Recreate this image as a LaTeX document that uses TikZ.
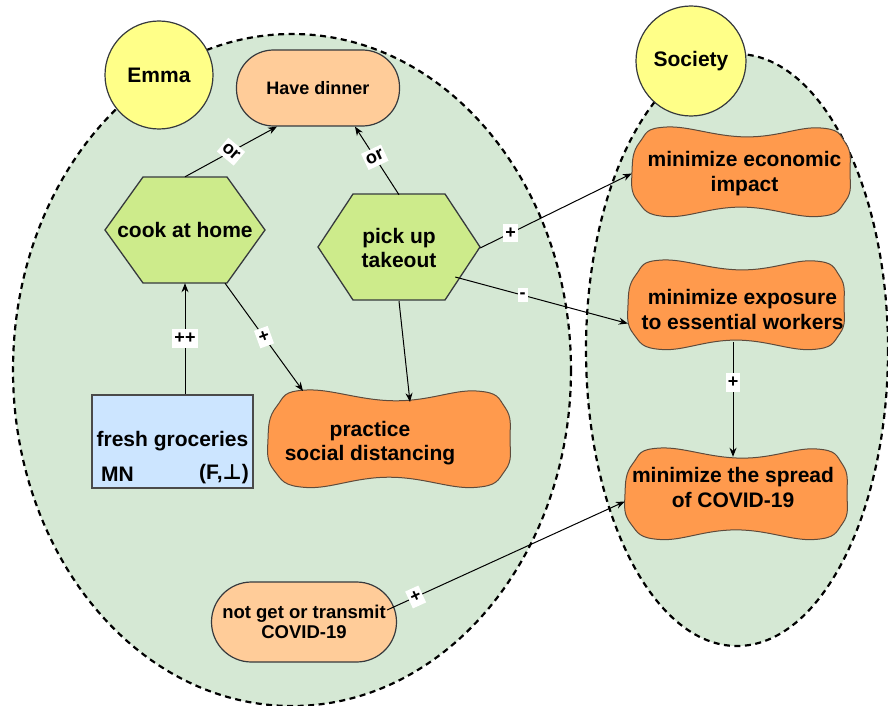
\documentclass[tikz,border=0pt]{standalone}
\usepackage{fontspec}
\setmainfont{Liberation Sans}
\newfontfamily\symbolfont{DejaVu Sans}
\usetikzlibrary{arrows.meta,calc}

\definecolor{groupfill}{HTML}{D5E8D4}
\definecolor{outline}{HTML}{36393D}
\definecolor{actorfill}{HTML}{FFFF88}
\definecolor{taskfill}{HTML}{CDEB8B}
\definecolor{goalfill}{HTML}{FFCC99}
\definecolor{softfill}{HTML}{FF9A4D}
\definecolor{softline}{HTML}{5E4B3C}
\definecolor{resfill}{HTML}{CCE5FF}
\definecolor{resline}{HTML}{4A4A4A}

\tikzset{
  mainfont/.style={font=\fontsize{21}{24.5}\selectfont\bfseries},
  group/.style={draw=black, fill=groupfill, line width=2.2pt, dash pattern=on 6pt off 4.5pt},
  actor/.style={circle, draw=outline, fill=actorfill, line width=1.2pt, mainfont, inner sep=0pt},
  goal/.style={rectangle, draw=outline, fill=goalfill, line width=1.2pt, align=center, inner sep=0pt},
  textonly/.style={align=center, mainfont, inner sep=0pt},
  taskshape/.style={draw=outline, fill=taskfill, line width=1.3pt, line join=miter},
  softshape/.style={draw=softline, fill=softfill, line width=1pt},
  resource/.style={rectangle, draw=resline, fill=resfill, line width=2.5pt, mainfont, inner sep=0pt},
  link/.style={-{Stealth[length=9pt,width=7pt]}, line width=1pt, black},
  tag/.style={fill=white, inner xsep=2pt, inner ysep=4pt, font=\fontsize{18}{18}\selectfont\bfseries},
}

% hexagon: centre x, centre y, half width, half height, corner inset
\newcommand\hexpath[5]{%
  \draw[taskshape] ({#1-#3},#2) -- ({#1-#3+#5},{#2-#4}) -- ({#1+#3-#5},{#2-#4})
    -- ({#1+#3},#2) -- ({#1+#3-#5},{#2+#4}) -- ({#1-#3+#5},{#2+#4}) -- cycle;}

% soft-goal outline: centre x, centre y, half width, half height
\newcommand\blobpath[4]{%
  \draw[softshape] plot[smooth cycle, tension=0.75] coordinates {
    ({#1-#3},#2) ({#1-0.93*#3},{#2-0.66*#4}) ({#1-0.68*#3},{#2-#4})
    ({#1+0.05*#3},{#2-0.78*#4}) ({#1+0.72*#3},{#2-0.98*#4}) ({#1+0.96*#3},{#2-0.64*#4})
    ({#1+#3},#2) ({#1+0.96*#3},{#2+0.64*#4}) ({#1+0.7*#3},{#2+0.99*#4})
    ({#1},{#2+0.78*#4}) ({#1-0.68*#3},{#2+0.99*#4}) ({#1-0.95*#3},{#2+0.64*#4})};}

\begin{document}
\begin{tikzpicture}[x=1pt,y=-1pt]
\useasboundingbox (0,0) rectangle (888,706);

% actor boundaries
\draw[group] (292,370) ellipse [x radius=279, y radius=336];
\draw[group] (737,350) ellipse [x radius=151, y radius=296];

% actors
\node[actor, minimum size=108pt] (emma) at (159,75) {Emma};
\node[actor, minimum size=110pt] (society) at (691,61) {Society};

% goals
\node[goal, rounded corners=37pt, minimum width=163pt, minimum height=76pt,
      font=\fontsize{18}{20}\selectfont\bfseries] (dinner) at (318,88) {Have dinner};
\node[goal, rounded corners=40pt, minimum width=185pt, minimum height=80pt,
      font=\fontsize{18.5}{20.5}\selectfont\bfseries] (notget) at (304,622) {not get or transmit\\COVID-19};

% tasks
\hexpath{185}{230}{80}{53}{38}
\node[textonly, minimum width=160pt, minimum height=106pt] (cook) at (185,230) {cook at home};
\hexpath{399}{247}{81}{53}{35}
\node[textonly, minimum width=162pt, minimum height=106pt] (takeout) at (399,248) {pick up\\takeout};

% resource
\node[resource, minimum width=161pt, minimum height=93pt] (groc) at (172.5,441.5) {fresh groceries};
\node[textonly] (grocmn) at ([shift={(-55pt,-33pt)}]groc.center) {MN};
\node[textonly] (grocsat) at ([shift={(51.5pt,-33pt)}]groc.center) {(F,{\symbolfont\bfseries ⊥})};

% soft goals
\blobpath{389}{439}{121}{49}
\node[textonly] (social) at (370,443) {practice\\social distancing};
\blobpath{741}{172}{109}{45}
\node[textonly, minimum width=225pt] (econ) at (744.5,173.5) {minimize economic\\impact};
\blobpath{736}{305}{108}{45}
\node[textonly, minimum width=229pt, minimum height=65pt] (expo) at (742.5,309.5) {minimize exposure\\to essential workers};
\blobpath{736}{494}{111}{46}
\node[textonly, minimum width=216pt, minimum height=61pt] (spread) at (733,487.5) {minimize the spread\\of COVID-19};

% links
\draw[link] (cook.north) -- node[tag, rotate=-40] {or} ([xshift=-41pt]dinner.south);
\draw[link] (takeout.north) -- node[tag, pos=0.55, rotate=25] {or} ([xshift=37pt]dinner.south);
\draw[link] (takeout.east) -- node[tag, pos=0.2] {+} (econ.west);
\draw[link] ([shift={(-25pt,-29pt)}]takeout.east) -- node[tag, pos=0.39] {-} ([yshift=-14pt]expo.west);
\draw[link] (takeout.south) -- ([shift={(40pt,41pt)}]social.center);
\draw[link] ([xshift=40pt]cook.south) -- node[tag, rotate=20] {+} ([shift={(-67pt,52pt)}]social.center);
\draw[link] (cook.south |- groc.north) -- node[tag] {++} (cook.south);
\draw[link] (spread.north |- expo.south) -- node[tag, pos=0.35] {+} (spread.north);
\draw[link] ([shift={(-10pt,12pt)}]notget.east) -- node[tag, pos=0.12, sloped] {+} ([yshift=-14pt]spread.west);
\end{tikzpicture}
\end{document}
